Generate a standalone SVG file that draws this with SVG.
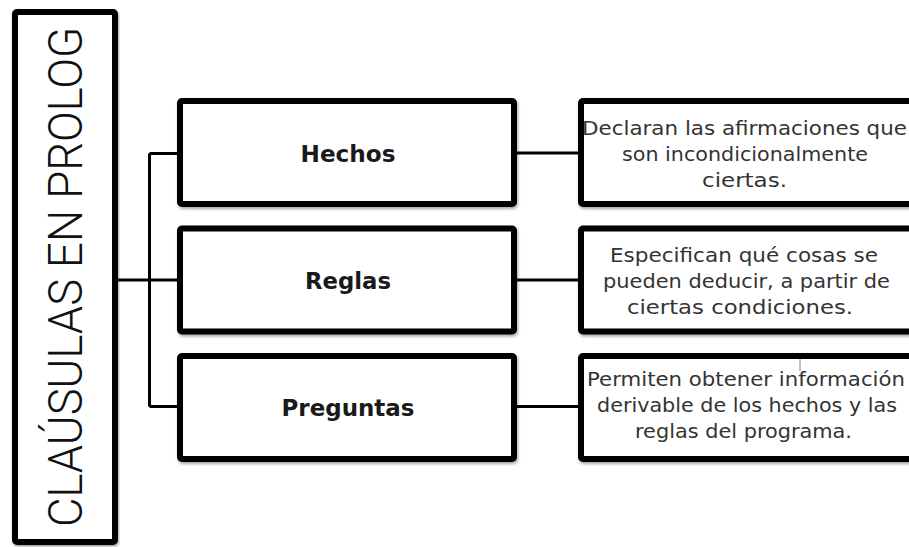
<svg xmlns="http://www.w3.org/2000/svg" width="909" height="547" viewBox="0 0 909 547">
<defs>
<filter id="sh" x="-5%" y="-5%" width="110%" height="115%">
<feDropShadow dx="1" dy="2" stdDeviation="1.5" flood-color="#000" flood-opacity="0.35"/>
</filter>
</defs>
<style>
.box{fill:#fff;stroke:#000;stroke-width:6;filter:url(#sh)}
.con{fill:none;stroke:#000;stroke-width:3}
.lbl{font-family:"DejaVu Sans",sans-serif;font-weight:bold;font-size:23px;fill:#1a1a1a;text-anchor:middle}
.desc{font-family:"DejaVu Sans",sans-serif;font-size:19px;fill:#333;text-anchor:middle}
.title{font-family:Roboto,"DejaVu Sans",sans-serif;font-weight:300;font-size:48px;fill:#111;text-anchor:middle}
</style>
<rect width="909" height="547" fill="#fff"/>
<g id="connectors">
<path class="con" d="M118 280 H149.5 M149.5 153.5 V406.5 M149.5 153.5 H180 M149.5 280 H180 M149.5 406.5 H180"/>
<path class="con" d="M514 153 H581 M514 280 H581 M514 406.5 H581"/>
</g>
<g id="title">
<rect class="box" x="15" y="12" width="100" height="530" rx="2"/>
<text class="title" transform="translate(82 277) rotate(-90)" x="0" y="0" textLength="500" lengthAdjust="spacingAndGlyphs">CLAÚSULAS EN PROLOG</text>
</g>
<g id="hechos">
<rect class="box" x="180" y="101" width="334" height="103" rx="2"/>
<text class="lbl" x="348" y="162" textLength="95" lengthAdjust="spacingAndGlyphs">Hechos</text>
</g>
<g id="reglas">
<rect class="box" x="180" y="228.5" width="334" height="103" rx="2"/>
<text class="lbl" x="348" y="289" textLength="86" lengthAdjust="spacingAndGlyphs">Reglas</text>
</g>
<g id="preguntas">
<rect class="box" x="180" y="356" width="334" height="103" rx="2"/>
<text class="lbl" x="348" y="416" textLength="133" lengthAdjust="spacingAndGlyphs">Preguntas</text>
</g>
<g id="hechos-desc">
<rect class="box" x="581" y="101" width="340" height="103" rx="2"/>
<text class="desc" x="744.5" y="135" textLength="325" lengthAdjust="spacingAndGlyphs">Declaran las afirmaciones que</text>
<text class="desc" x="745" y="161" textLength="246" lengthAdjust="spacingAndGlyphs">son incondicionalmente</text>
<text class="desc" x="744.5" y="187" textLength="85" lengthAdjust="spacingAndGlyphs">ciertas.</text>
</g>
<g id="reglas-desc">
<rect class="box" x="581" y="228.5" width="340" height="103" rx="2"/>
<text class="desc" x="744" y="262" textLength="268" lengthAdjust="spacingAndGlyphs">Especifican qué cosas se</text>
<text class="desc" x="746.5" y="288" textLength="287" lengthAdjust="spacingAndGlyphs">pueden deducir, a partir de</text>
<text class="desc" x="740" y="314" textLength="226" lengthAdjust="spacingAndGlyphs">ciertas condiciones.</text>
</g>
<g id="preguntas-desc">
<rect class="box" x="581" y="356" width="340" height="103" rx="2"/>
<line x1="800" y1="359" x2="800" y2="371" stroke="#888" stroke-width="1"/>
<text class="desc" x="746" y="386" textLength="318" lengthAdjust="spacingAndGlyphs">Permiten obtener información</text>
<text class="desc" x="747" y="412" textLength="300" lengthAdjust="spacingAndGlyphs">derivable de los hechos y las</text>
<text class="desc" x="743.5" y="438" textLength="217" lengthAdjust="spacingAndGlyphs">reglas del programa.</text>
</g>
</svg>
